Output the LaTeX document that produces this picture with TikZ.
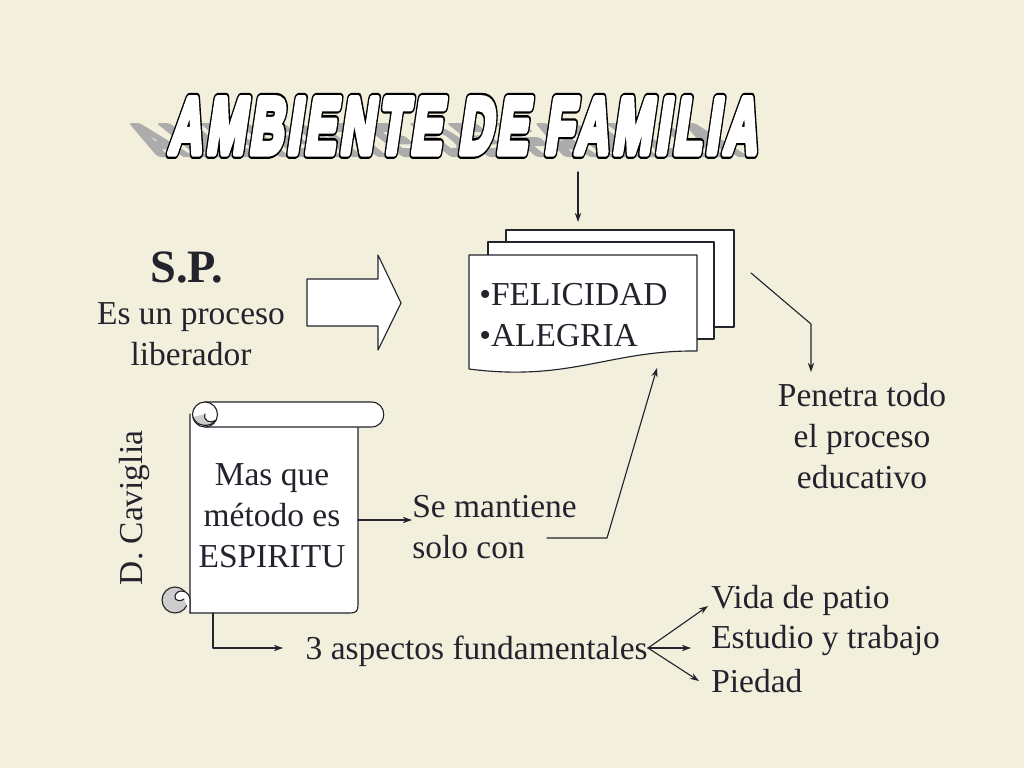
\documentclass[tikz,border=0pt]{standalone}
\usepackage{fontspec}
\setmainfont{Liberation Serif}
\newfontfamily\titlefont[LetterSpace=10]{Liberation Sans}
\usetikzlibrary{arrows.meta}
\definecolor{fondo}{RGB}{242,240,221}
\definecolor{tinta}{RGB}{35,35,45}
\definecolor{sombra}{RGB}{172,172,172}
\definecolor{rizo}{RGB}{205,205,205}
% letras gruesas: relleno y trazo (modo 2)
\newcommand\grueso[2]{{\special{pdf:literal direct #1 w 2 Tr}#2\special{pdf:literal direct 0 Tr}}}
\newcommand\contorno[1]{\rlap{\color{black}\grueso{8.5}{#1}}{\color{white}\grueso{5.2}{#1}}}
\begin{document}
\begin{tikzpicture}[x=0.025cm, y=-0.025cm, >={Stealth[length=6.5pt,width=4.5pt]}, line join=round, line cap=round,
    font=\fontsize{23.8}{29.2}\selectfont, text=tinta,
    linea/.style={draw=tinta, line width=0.8pt},
    hoja/.style={linea, fill=white},
    texto/.style={inner sep=0pt, align=center},
    titulo/.style={font=\titlefont\bfseries\fontsize{56}{56}\selectfont, inner sep=0pt, anchor=base, transform shape}]
  % fondo
  \fill[fondo] (0,0) rectangle (1024,768);
  \useasboundingbox (0,0) rectangle (1024,768);
  % titulo con sombra y contorno
  \begin{scope}[shift={(462,153)}, xscale=0.585, xslant=0.25, nodes={titulo}]
    \node[yscale=0.55, xslant=-1.3] (sombra) at (-18,2) {\color{sombra}\grueso{5.2}{AMBIENTE DE FAMILIA}};
    \node (titulo) at (0,0) {\contorno{AMBIENTE DE FAMILIA}};
  \end{scope}
  % hojas apiladas
  \draw[hoja] (506,230) rectangle (734,327);
  \draw[hoja] (488,242) rectangle (714,339);
  \draw[hoja] (469,255) -- (697,255) -- (697,351) .. controls (610,350) and (570,382) .. (469,369) -- cycle;
  \node[texto, anchor=west, align=left] (valores) at (479,315) {•FELICIDAD\\•ALEGRIA};
  \coordinate (tituloBajo) at (578,172);
  \coordinate (hojasArriba) at (578,222);
  \draw[linea, ->] (tituloBajo) -- (hojasArriba);
  % S.P.
  \node[texto, font=\bfseries\fontsize{33}{33}\selectfont] (sp) at (187,267) {S.P.};
  \node[texto] (proceso) at (191,334) {Es un proceso\\liberador};
  \draw[hoja] (307,279) -- (378,279) -- (378,255) -- (401,303) -- (378,350) -- (378,326) -- (307,326) -- cycle;
  % penetra
  \node[texto] (penetra) at (862,436) {Penetra todo\\el proceso\\ educativo};
  \coordinate (hojasDer) at (751,273);
  \coordinate (codo) at (811,324);
  \coordinate (penetraArriba) at (811,372);
  \draw[linea, ->] (hojasDer) -- (codo) -- (penetraArriba);
  % pergamino
  \draw[hoja] (190,414) -- (190,613) -- (350,613) .. controls (356,613) and (358,611) .. (358,605) -- (358,427);
  \draw[hoja] (205,402) -- (371,402) .. controls (388,402) and (388,427) .. (371,427) -- (205,427);
  \draw[hoja] (205,414.5) circle[radius=12.5];
  \draw[linea, fill=rizo] (193,417) .. controls (196,427) and (211,428) .. (216,420) .. controls (210,424) and (203,421) .. (205,414);
  \draw[linea, fill=rizo] (175,600) circle[radius=13];
  \draw[hoja] (190,613) -- (190,600) .. controls (190,590) and (177,588) .. (175,596) .. controls (174,601) and (181,602) .. (184,599);
  \node[texto] (espiritu) at (272,516) {Mas que\\ método es\\ESPIRITU};
  \node[texto, rotate=90] (caviglia) at (134,508) {D. Caviglia};
  % se mantiene
  \node[texto, anchor=west, align=left] (mantiene) at (412,527) {Se mantiene\\solo con};
  \coordinate (pergDer) at (358,520);
  \draw[linea, ->] (pergDer) -- (mantiene.west |- pergDer);
  \coordinate (conFin) at (547,538);
  \coordinate (conCodo) at (607,538);
  \coordinate (hojasAbajo) at (657,368);
  \draw[linea, ->] (conFin) -- (conCodo) -- (hojasAbajo);
  % aspectos
  \node[texto, anchor=east] (aspectos) at (648,651) {3 aspectos fundamentales};
  \coordinate (pergAbajo) at (213,613);
  \coordinate (aspIzq) at (283,648);
  \draw[linea, ->] (pergAbajo) -- (pergAbajo |- aspIzq) -- (aspIzq);
  \node[texto, anchor=west] (vida) at (711,600) {Vida de patio};
  \node[texto, anchor=west] (estudio) at (711,640) {Estudio y trabajo};
  \node[texto, anchor=west] (piedad) at (711,681) {Piedad};
  \coordinate (ramas) at (648,648);
  \draw[linea, ->] (ramas) -- (708,606);
  \draw[linea, ->] (ramas) -- (691,648);
  \draw[linea, ->] (ramas) -- (699,681);
\end{tikzpicture}
\end{document}
